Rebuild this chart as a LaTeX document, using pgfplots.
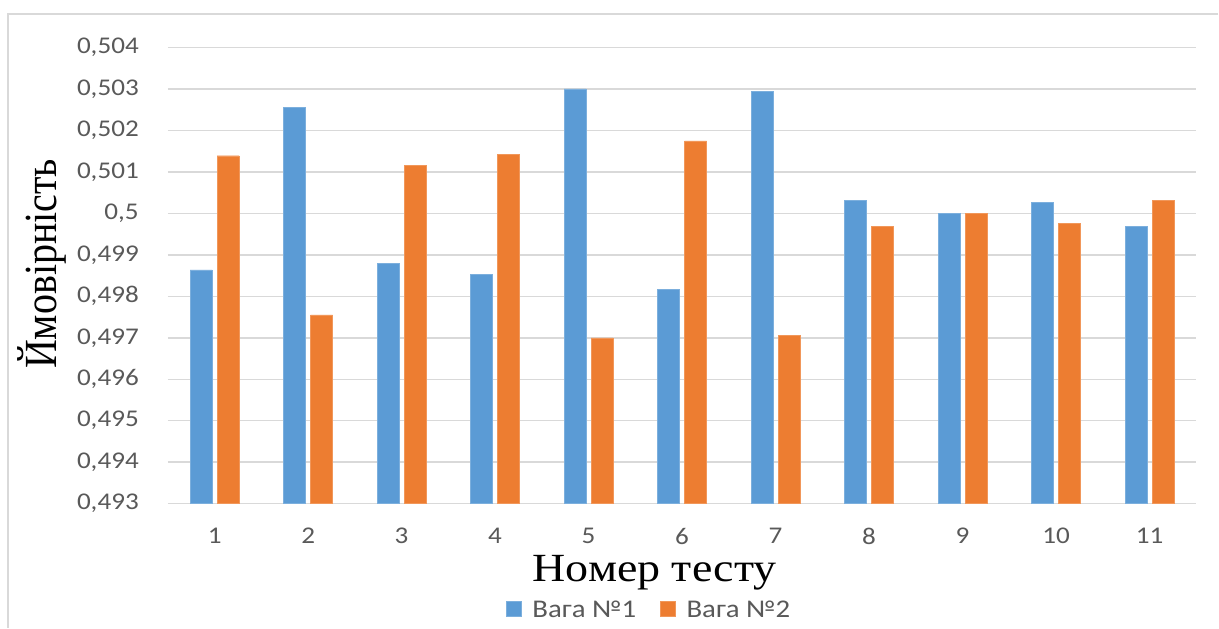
\documentclass[border=0pt]{standalone}
\usepackage{pgfplots}
\pgfplotsset{compat=1.18}
\usepackage{fontspec}
\setmainfont{Liberation Serif}
\newfontfamily\serifwide{Liberation Serif}[FakeStretch=1.15]
\newfontfamily\calfont{Carlito}[FakeStretch=1.13]
\definecolor{bblue}{HTML}{5B9BD5}
\definecolor{borange}{HTML}{ED7D31}
\definecolor{gridc}{HTML}{D9D9D9}
\definecolor{tickc}{HTML}{595959}
\begin{document}
\begin{tikzpicture}[x=1pt,y=1pt]
\path (0,0) rectangle (1219,628);
\draw[gridc, line width=1.5pt] (1219,614) -- (8,614) -- (8,0);
\begin{axis}[
  at={(168pt,124pt)}, anchor=south west,
  scale only axis, width=1029pt, height=456.5pt,
  xmin=0.5, xmax=11.5, ymin=0.493, ymax=0.504,
  ybar=5pt, bar width=22pt,
  xtick={1,2,3,4,5,6,7,8,9,10,11},
  ytick={0.493,0.494,0.495,0.496,0.497,0.498,0.499,0.5,0.501,0.502,0.503,0.504},
  major tick length=0pt,
  axis line style={draw=none},
  ymajorgrids, grid style={gridc, line width=1.5pt},
  /pgf/number format/.cd, use comma, fixed, precision=3, assume math mode=true,
  /pgfplots/.cd,
  ticklabel style={font=\calfont\fontsize{24}{28}\selectfont, text=tickc},
  yticklabel style={anchor=east, inner sep=0pt, xshift=-29pt},
  xticklabel style={anchor=north, inner sep=0pt, yshift=-24pt},
  legend style={at={(axis description cs:0.468,-0.232)}, anchor=center,
    draw=none, fill=none, legend columns=2, inner sep=0pt,
    font=\calfont\fontsize{25.5}{28}\selectfont, text=tickc,
    /tikz/every odd column/.append style={column sep=9pt},
    /tikz/every even column/.append style={column sep=22pt}},
  legend image code/.code={\fill[#1] (0pt,-7pt) rectangle (15pt,8pt);},
]
\addplot[fill=bblue, draw=bblue!80!white] coordinates {
(1,0.49864) (2,0.50255) (3,0.49880) (4,0.49853) (5,0.50300) (6,0.49817)
(7,0.50294) (8,0.50031) (9,0.50000) (10,0.50026) (11,0.49969)};
\addplot[fill=borange, draw=borange!80!white] coordinates {
(1,0.50139) (2,0.49755) (3,0.50116) (4,0.50142) (5,0.49700) (6,0.50175)
(7,0.49706) (8,0.49969) (9,0.50000) (10,0.49976) (11,0.50031)};
\legend{Вага №1, Вага №2}
\end{axis}
\node[anchor=base, inner sep=0pt] at (655,46) {\serifwide\fontsize{40}{44}\selectfont Номер тесту};
\node[anchor=center, rotate=90, inner sep=0pt] at (42,364) {\scalebox{1}[1.15]{\fontsize{40}{44}\selectfont Ймовірність}};
\end{tikzpicture}
\end{document}
